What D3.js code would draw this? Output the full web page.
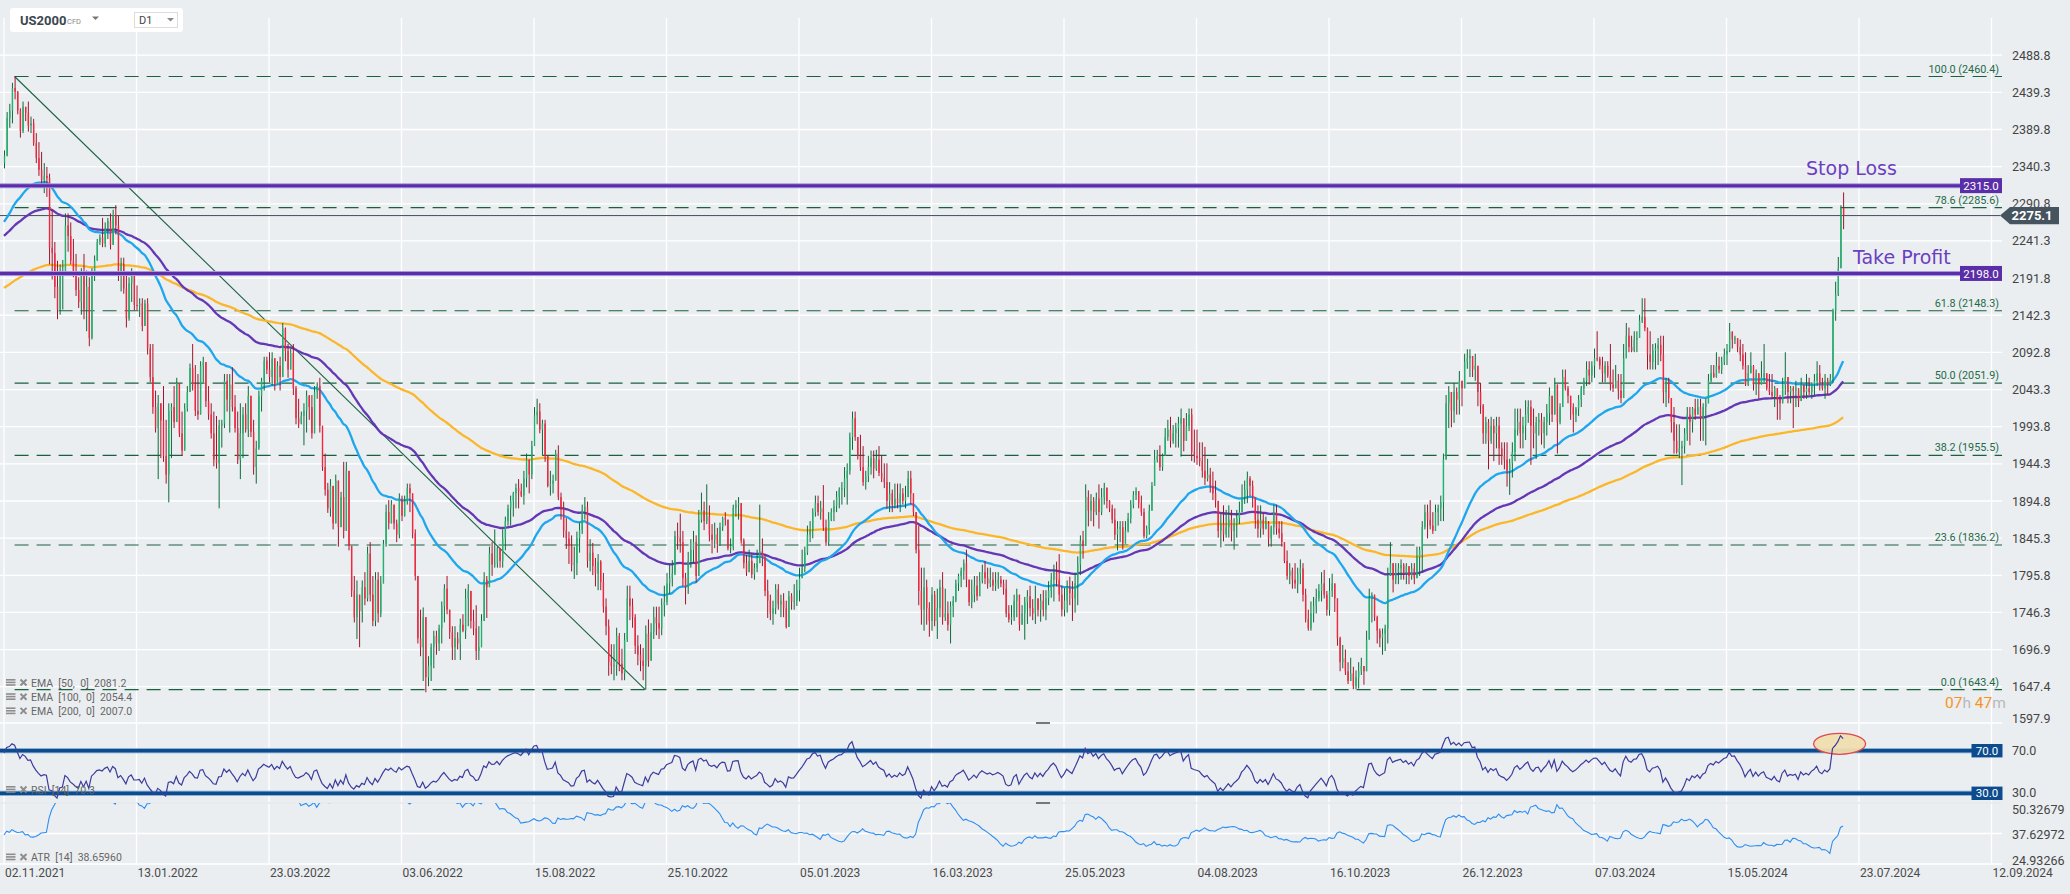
<!DOCTYPE html>
<html><head><meta charset="utf-8">
<script src="https://cdn.jsdelivr.net/npm/d3@7"></script>
<style>
body{margin:0;background:#ebeef1;overflow:hidden}
svg{display:block;font-family:Roboto,"Noto Sans",sans-serif}
</style></head>
<body><svg id="c" width="2070" height="894"></svg>
<script>
// ---------------- DATA ----------------
const dateLabels = ["02.11.2021","13.01.2022","23.03.2022","03.06.2022","15.08.2022","25.10.2022","05.01.2023","16.03.2023","25.05.2023","04.08.2023","16.10.2023","26.12.2023","07.03.2024","15.05.2024","23.07.2024","12.09.2024"];
const barsPerDateLabel = 50;
const priceTicks = [2488.8,2439.3,2389.8,2340.3,2290.8,2241.3,2191.8,2142.3,2092.8,2043.3,1993.8,1944.3,1894.8,1845.3,1795.8,1746.3,1696.9,1647.4,1597.9];
const fibLevels = ["100.0","78.6","61.8","50.0","38.2","23.6","0.0"];
const fibPrices = [2460.4,2285.6,2148.3,2051.9,1955.5,1836.2,1643.4];
const fibFromIndex = 4, fibToIndex = 242;
const stopLoss = 2315.0, takeProfit = 2198.0, lastPrice = 2275.1;
const rsiLevels = [70.0, 30.0];
const atrTicks = [50.32679, 37.62972, 24.93266];
const emaPeriods = [50, 100, 200];
const emaSeeds = [2263, 2246, 2177];
const emaLegendValues = ["2081.2", "2054.4", "2007.0"];
const rsiLegend = "RSI  [14]  70.3";
const atrLegend = "ATR  [14]  38.65960";
const firstOpen = 2345;
const rsiSeed = [14, 7];
const atrSeed = 38;

const closes = [
2355,2405,2415,2445,2440,2415,2388,2420,2412,2395,
2398,2372,2352,2336,2322,2328,2325,2232,2225,2180,
2150,2195,2200,2262,2248,2215,2198,2176,2160,2195,
2150,2180,2112,2195,2215,2240,2246,2238,2258,2268,
2236,2276,2262,2195,2210,2178,2138,2185,2198,2156,
2155,2158,2128,2158,2098,2060,2020,1992,2025,2002,
1955,1930,2015,2020,2000,2052,1985,1962,2018,2040,
2072,2050,2015,2010,2075,2080,2028,2010,1985,1950,
1945,1995,1998,2055,2030,2050,2020,1992,1950,1985,
2010,1990,2035,1987,1940,1965,2035,2055,2082,2070,
2060,2085,2050,2075,2060,2125,2095,2070,2092,2045,
2005,1998,2008,2015,2035,2020,1985,2040,2048,1995,
1940,1910,1885,1915,1865,1922,1860,1900,1855,1935,
1835,1775,1740,1770,1748,1780,1765,1825,1770,1735,
1790,1745,1785,1838,1880,1865,1890,1865,1850,1898,
1875,1895,1912,1905,1852,1795,1712,1700,1740,1660,
1675,1700,1715,1705,1725,1755,1778,1750,1720,1700,
1712,1705,1730,1722,1765,1775,1735,1725,1695,1700,
1735,1790,1780,1825,1810,1812,1832,1815,1845,1868,
1885,1895,1905,1912,1908,1902,1925,1950,1930,1968,
2009,2014,1990,1998,1955,1915,1918,1922,1958,1900,
1885,1855,1845,1835,1810,1812,1845,1856,1882,1887,
1815,1826,1808,1798,1814,1787,1754,1728,1680,1675,
1676,1715,1678,1665,1710,1765,1755,1740,1702,1690,
1682,1675,1718,1682,1720,1740,1732,1725,1756,1760,
1785,1792,1798,1848,1846,1840,1792,1780,1815,1830,
1840,1795,1870,1882,1868,1875,1850,1843,1850,1838,
1860,1872,1870,1832,1834,1886,1890,1892,1842,1812,
1800,1815,1797,1806,1812,1828,1819,1775,1762,1745,
1752,1777,1757,1762,1752,1727,1768,1761,1762,1776,
1792,1806,1826,1850,1856,1880,1892,1880,1885,1860,
1840,1870,1880,1888,1900,1910,1912,1925,1935,1980,
2005,1980,1955,1940,1920,1928,1940,1952,1938,1950,
1932,1925,1920,1895,1905,1890,1898,1892,1905,1895,
1900,1925,1905,1880,1830,1775,1750,1780,1752,1735,
1770,1735,1752,1780,1740,1745,1730,1755,1762,1785,
1795,1802,1812,1790,1760,1770,1782,1768,1788,1800,
1792,1785,1790,1782,1785,1790,1785,1778,1745,1737,
1740,1762,1770,1730,1745,1760,1768,1752,1745,1765,
1750,1762,1750,1765,1775,1790,1800,1790,1770,1750,
1762,1780,1772,1765,1785,1810,1842,1835,1900,1882,
1895,1880,1898,1880,1900,1912,1895,1885,1870,1850,
1858,1860,1838,1855,1872,1890,1903,1908,1892,1880,
1848,1858,1882,1915,1950,1955,1940,1955,1980,1990,
1975,1985,1992,1998,2005,1975,1995,2010,1960,1955,
1952,1948,1935,1925,1930,1915,1905,1895,1855,1865,
1850,1860,1870,1855,1865,1872,1880,1900,1910,1925,
1915,1900,1870,1858,1870,1858,1866,1845,1860,1880,
1858,1852,1840,1815,1795,1802,1790,1785,1798,1805,
1770,1738,1725,1745,1755,1765,1775,1785,1770,1750,
1775,1785,1765,1712,1680,1685,1668,1655,1665,1648,
1660,1668,1675,1668,1710,1765,1770,1740,1722,1712,
1718,1725,1795,1812,1790,1800,1805,1810,1798,1808,
1795,1805,1792,1820,1830,1860,1880,1870,1862,1855,
1880,1885,1893,1950,2025,2040,2015,2040,2030,2055,
2045,2080,2085,2088,2070,2075,2040,2022,1985,2000,
1975,1995,1985,1995,1965,1955,1950,1935,1945,1960,
1990,2000,1985,1995,2010,2020,1995,1985,2000,2003,
1985,2000,2012,2035,2010,2050,2000,2020,2060,2045,
2035,2020,2010,2018,2030,2045,2055,2070,2062,2075,
2085,2084,2075,2065,2075,2062,2050,2045,2055,2042,
2032,2085,2115,2100,2095,2110,2112,2135,2140,2125,
2090,2080,2095,2098,2103,2090,2040,2055,2032,2000,
1975,1960,1965,1968,1985,2010,2000,2018,2010,2020,
2005,2020,2025,2055,2065,2060,2075,2070,2080,2090,
2095,2120,2110,2112,2100,2090,2075,2050,2065,2075,
2050,2065,2050,2060,2065,2045,2040,2035,2045,2030,
2025,2050,2060,2040,2045,2042,2045,2028,2050,2040,
2045,2040,2050,2055,2065,2050,2045,2055,2050,2058,
2148,2170,2205,2285,2275.1];

const highs = [
2362,2413,2424,2452,2460.4,2441,2418,2427,2420,2427,
2407,2404,2385,2373,2360,2345,2340,2331,2283,2240,
2215,2210,2216,2278,2278,2266,2244,2224,2193,2205,
2224,2202,2193,2205,2222,2244,2250,2272,2266,2272,
2278,2283,2289,2275,2219,2219,2199,2193,2205,2200,
2182,2165,2165,2163,2165,2104,2104,2042,2036,2008,
2048,2003,2025,2025,2048,2059,2025,2014,2025,2048,
2078,2104,2076,2064,2081,2087,2078,2048,2025,2014,
2008,2003,2003,2064,2064,2064,2073,2036,2014,2025,
2020,2025,2048,2000,2003,1975,2042,2059,2087,2087,
2093,2093,2076,2081,2087,2132,2126,2104,2098,2104,
2048,2031,2014,2025,2042,2036,2036,2048,2053,2059,
1986,1958,1919,1924,1907,1930,1900,1907,1947,1947,
1874,1829,1795,1789,1756,1789,1800,1834,1840,1795,
1800,1800,1795,1843,1890,1896,1896,1890,1870,1905,
1902,1902,1918,1918,1902,1857,1789,1750,1753,1715,
1688,1705,1722,1722,1730,1761,1784,1795,1744,1728,
1728,1720,1738,1744,1778,1784,1767,1750,1756,1728,
1744,1800,1795,1834,1840,1857,1834,1828,1857,1874,
1890,1902,1907,1918,1924,1918,1935,1958,1947,1975,
2020,2031,2025,2003,2003,1952,1935,1930,1963,1969,
1906,1894,1872,1854,1849,1834,1854,1866,1890,1900,
1894,1844,1839,1819,1824,1816,1799,1765,1737,1704,
1704,1726,1719,1698,1719,1782,1782,1765,1744,1716,
1704,1699,1729,1737,1732,1754,1754,1754,1765,1782,
1799,1810,1816,1855,1866,1878,1855,1799,1827,1844,
1855,1849,1883,1906,1894,1917,1889,1864,1866,1859,
1866,1874,1880,1868,1845,1890,1896,1900,1880,1845,
1823,1830,1825,1812,1830,1890,1845,1823,1790,1770,
1762,1784,1784,1770,1772,1762,1775,1772,1784,1790,
1806,1830,1834,1862,1868,1885,1902,1902,1895,1916,
1870,1880,1885,1896,1908,1913,1920,1940,1945,1986,
2014,2014,1980,1983,1968,1935,1955,1962,1962,1963,
1968,1955,1945,1945,1920,1910,1918,1918,1918,1912,
1915,1935,1935,1905,1880,1862,1806,1806,1790,1760,
1780,1775,1778,1790,1800,1778,1761,1761,1768,1790,
1798,1806,1817,1830,1790,1790,1795,1795,1800,1810,
1815,1806,1806,1800,1800,1800,1795,1790,1790,1756,
1756,1770,1778,1770,1756,1767,1776,1782,1764,1782,
1764,1771,1776,1776,1788,1799,1810,1814,1824,1782,
1779,1789,1794,1788,1799,1821,1849,1855,1917,1909,
1904,1900,1906,1917,1912,1919,1913,1896,1890,1885,
1868,1868,1868,1868,1879,1896,1908,1913,1908,1902,
1885,1862,1890,1920,1963,1963,1969,1958,1992,2003,
2007,1996,1999,2007,2018,2004,2012,2018,2018,1990,
1990,1973,1973,1967,1951,1939,1934,1922,1894,1878,
1889,1883,1889,1883,1872,1883,1894,1917,1922,1934,
1928,1922,1900,1889,1889,1879,1874,1868,1862,1890,
1890,1868,1868,1840,1829,1812,1806,1812,1806,1817,
1812,1778,1750,1761,1767,1778,1784,1800,1803,1775,
1792,1798,1781,1759,1714,1703,1697,1680,1686,1674,
1669,1680,1686,1671,1722,1778,1773,1753,1742,1725,
1725,1730,1806,1840,1812,1812,1812,1817,1812,1812,
1806,1812,1812,1834,1834,1868,1890,1890,1896,1880,
1890,1890,1902,1958,2036,2048,2024,2052,2046,2068,
2054,2091,2097,2097,2085,2091,2063,2052,2024,2007,
2004,2007,2004,2007,2007,1973,1973,1973,1951,1973,
2018,2018,2018,2007,2029,2029,2029,2018,2007,2012,
2012,2007,2024,2046,2025,2059,2031,2025,2070,2070,
2048,2031,2025,2020,2036,2048,2059,2081,2081,2081,
2098,2121,2087,2087,2081,2081,2104,2070,2076,2064,
2064,2104,2132,2126,2115,2121,2121,2143,2165,2165,
2126,2121,2104,2105,2112,2115,2115,2059,2059,2020,
2020,1997,1997,1975,1992,2020,2020,2020,2031,2031,
2031,2025,2031,2064,2076,2076,2093,2087,2087,2098,
2104,2132,2121,2115,2110,2110,2104,2093,2076,2093,
2076,2070,2064,2081,2104,2064,2064,2064,2048,2036,
2036,2059,2093,2048,2048,2048,2055,2040,2059,2048,
2064,2059,2053,2064,2081,2076,2059,2064,2059,2064,
2151,2187,2220,2289,2306];

const lows = [
2338,2354,2392,2398,2430,2410,2379,2385,2401,2387,
2385,2368,2345,2328,2312,2305,2300,2210,2190,2165,
2137,2143,2150,2216,2227,2210,2193,2168,2152,2143,
2137,2121,2101,2110,2188,2215,2236,2233,2233,2244,
2230,2240,2250,2188,2174,2171,2126,2135,2160,2149,
2149,2140,2121,2149,2090,2053,2011,1986,1924,1952,
1947,1918,1893,1952,1992,2008,1980,1955,1997,2014,
2042,2042,2008,2003,2020,2053,2020,2003,1978,1941,
1938,1885,1966,1992,2014,1986,2014,1986,1944,1924,
1952,1986,1980,1980,1930,1918,1963,2014,2042,2064,
2053,2048,2042,2053,2042,2087,2081,2059,2070,2036,
1997,1992,1997,1969,1986,2003,1978,1992,2031,1986,
1935,1902,1879,1874,1857,1874,1834,1868,1845,1857,
1829,1767,1733,1711,1700,1733,1756,1761,1761,1728,
1728,1733,1740,1790,1834,1857,1874,1857,1840,1845,
1868,1874,1890,1880,1845,1789,1705,1688,1655,1640,
1648,1655,1672,1690,1695,1705,1733,1744,1711,1683,
1683,1697,1683,1720,1711,1728,1725,1716,1683,1683,
1700,1739,1739,1800,1795,1806,1806,1806,1806,1829,
1862,1862,1874,1885,1885,1900,1890,1913,1905,1924,
1978,1997,1985,1955,1947,1913,1902,1905,1935,1896,
1870,1846,1831,1811,1801,1791,1796,1826,1851,1870,
1806,1801,1796,1781,1776,1776,1746,1716,1662,1664,
1656,1662,1668,1656,1656,1707,1736,1726,1691,1676,
1668,1656,1643.4,1674,1686,1711,1716,1711,1716,1741,
1756,1771,1781,1796,1830,1826,1781,1757,1771,1806,
1811,1786,1813,1866,1856,1864,1841,1825,1832,1826,
1835,1855,1862,1829,1825,1829,1874,1870,1838,1805,
1795,1800,1792,1790,1800,1820,1808,1768,1739,1736,
1730,1744,1750,1740,1740,1725,1728,1750,1750,1755,
1761,1798,1800,1823,1840,1845,1874,1875,1870,1855,
1835,1835,1868,1868,1880,1885,1890,1900,1890,1930,
1963,1975,1950,1935,1915,1910,1920,1930,1925,1935,
1928,1920,1912,1885,1880,1880,1885,1885,1880,1890,
1885,1900,1890,1875,1825,1756,1730,1722,1730,1714,
1722,1728,1711,1740,1730,1735,1722,1705,1740,1760,
1775,1780,1790,1780,1755,1752,1760,1762,1770,1785,
1784,1778,1780,1775,1775,1778,1780,1770,1740,1733,
1730,1735,1740,1722,1735,1710,1731,1741,1736,1731,
1741,1734,1741,1736,1756,1766,1761,1781,1761,1741,
1741,1746,1756,1735,1746,1756,1796,1818,1841,1861,
1868,1861,1876,1858,1876,1890,1885,1880,1865,1843,
1829,1840,1830,1845,1853,1865,1885,1896,1885,1875,
1845,1845,1850,1890,1930,1946,1935,1935,1963,1975,
1966,1971,1966,1966,1954,1961,1981,1988,1948,1946,
1943,1941,1926,1916,1921,1906,1896,1886,1846,1833,
1841,1846,1846,1841,1830,1846,1864,1881,1891,1892,
1901,1886,1858,1846,1846,1850,1857,1834,1834,1850,
1850,1845,1834,1812,1790,1784,1778,1778,1772,1784,
1761,1733,1722,1722,1733,1745,1761,1761,1765,1742,
1742,1767,1747,1702,1668,1672,1663,1651,1657,1644,
1644,1645,1663,1650,1677,1722,1733,1735,1705,1700,
1690,1695,1705,1806,1773,1784,1784,1790,1790,1784,
1784,1790,1784,1795,1795,1800,1857,1845,1857,1851,
1868,1862,1868,1868,1975,1992,1993,1999,2010,2010,
2021,2055,2071,2060,2060,2055,2021,2011,1971,1971,
1937,1971,1948,1965,1943,1943,1937,1914,1903,1926,
1948,1982,1965,1965,1976,1999,1943,1965,1951,1982,
1970,1965,1982,1996,2000,2014,1958,1997,2025,2042,
2025,2003,1986,2000,2008,2020,2036,2048,2050,2053,
2059,2081,2070,2053,2053,2059,2042,2040,2048,2030,
2025,2070,2104,2093,2093,2093,2093,2115,2132,2121,
2070,2070,2070,2070,2076,2081,2025,2020,2025,1986,
1958,1958,1952,1916,1958,1975,1969,1986,2003,2014,
1975,1975,1969,2031,2053,2059,2059,2065,2064,2076,
2076,2093,2098,2104,2093,2081,2070,2048,2048,2068,
2042,2036,2031,2053,2053,2042,2036,2031,2020,2003,
2003,2025,2036,2025,2025,1992,2020,2020,2031,2031,
2031,2036,2031,2036,2048,2042,2042,2031,2036,2048,
2052,2135,2168,2205,2257];

// ---------------- CHART ----------------
const svg = d3.select("#c");
const PR = 2002;
const MT = 18, MB = 723;
const RT = 723, RB = 803;
const AT = 803, AB = 864;
const GRID = "#ffffff";
const FIB = "#1b6140";

const x = d3.scaleLinear().domain([0, 750]).range([4, 1991.5]);
const y = d3.scaleLinear().domain([1647.4, 2488.8]).range([686.7, 55.2]);
const yR = d3.scaleLinear().domain([30, 70]).range([793.3, 750.7]);
const yA = d3.scaleLinear().domain([atrTicks[2], atrTicks[0]]).range([AB, AT]);

const defs = svg.append("defs");
function clip(id, x0, y0, x1, y1) {
  defs.append("clipPath").attr("id", id).append("rect")
    .attr("x", x0).attr("y", y0).attr("width", x1 - x0).attr("height", y1 - y0);
}
clip("cm", 0, MT, PR, MB); clip("cr", 0, RT, PR, RB); clip("ca", 0, AT, PR, AB);

svg.append("rect").attr("width", 2070).attr("height", 894).attr("fill", "#ebeef1");

// grid
const g = svg.append("g");
g.selectAll(".vg").data(dateLabels).join("line")
  .attr("x1", (d, k) => x(k * barsPerDateLabel)).attr("x2", (d, k) => x(k * barsPerDateLabel))
  .attr("y1", MT).attr("y2", AB).attr("stroke", GRID).attr("stroke-width", 1.3);
g.selectAll(".hg").data(priceTicks.filter(p => y(p) < MB - 2)).join("line")
  .attr("x1", 0).attr("x2", PR).attr("y1", d => y(d)).attr("y2", d => y(d))
  .attr("stroke", GRID).attr("stroke-width", 1.3);
[MB, RB, yA(atrTicks[1]), AB].forEach(v => g.append("line").attr("x1", 0).attr("x2", PR)
  .attr("y1", v).attr("y2", v).attr("stroke", GRID).attr("stroke-width", 1.3));
svg.append("line").attr("x1", 0).attr("x2", PR).attr("y1", RB).attr("y2", RB).attr("stroke", "#d6dadf").attr("stroke-width", 1);

// axis labels
svg.append("g").attr("font-size", 12.5).attr("fill", "#444").selectAll("text").data(priceTicks).join("text")
  .attr("x", 2012).attr("y", d => Math.min(y(d) + 4.5, 722.5)).text(d => d.toFixed(1));
svg.append("g").attr("font-size", 12).attr("fill", "#4a4a4a").selectAll("text").data(dateLabels).join("text")
  .attr("x", (d, k) => x(k * barsPerDateLabel) + 1).attr("y", 877).text(d => d);
const atrLabY = [814, 839, 865];
svg.append("g").attr("font-size", 12.5).attr("fill", "#444").selectAll("text").data(atrTicks).join("text")
  .attr("x", 2012).attr("y", (d, k) => atrLabY[k]).text(d => d.toFixed(5));
svg.append("g").attr("font-size", 12.5).attr("fill", "#444").selectAll("text").data(rsiLevels).join("text")
  .attr("x", 2012).attr("y", d => yR(d) + 4).text(d => d.toFixed(1));

// main panel content
const main = svg.append("g").attr("clip-path", "url(#cm)");
const fx0 = x(fibFromIndex);
main.selectAll(".fib").data(fibPrices).join("line")
  .attr("x1", fx0).attr("x2", PR).attr("y1", d => y(d)).attr("y2", d => y(d))
  .attr("stroke", FIB).attr("stroke-width", 1.2).attr("stroke-dasharray", "14,8");
svg.append("g").attr("font-size", 10.8).attr("fill", "#1d6b47").attr("text-anchor", "end")
  .selectAll("text").data(fibPrices).join("text")
  .attr("x", 1999).attr("y", d => y(d) - 4).text((d, k) => `${fibLevels[k]} (${d.toFixed(1)})`);
main.append("line").attr("x1", x(fibFromIndex)).attr("y1", y(fibPrices[0]))
  .attr("x2", x(fibToIndex)).attr("y2", y(fibPrices[6])).attr("stroke", FIB).attr("stroke-width", 1.1);

main.append("line").attr("x1", 0).attr("x2", 2000).attr("y1", y(lastPrice)).attr("y2", y(lastPrice))
  .attr("stroke", "#3f4d57").attr("stroke-width", 1);

// EMAs
function ema(vals, period, seed) { const a = 2 / (period + 1); let e = seed; return vals.map(v => (e = e + a * (v - e))); }
const emaColors = ["#1ea6ee", "#6437b4", "#fbb62a"];
const lineGen = d3.line().x((d, i) => x(i)).y(d => y(d)).curve(d3.curveMonotoneX);
[2, 1, 0].forEach(k => {
  const vals = ema(closes, emaPeriods[k], emaSeeds[k]);
  main.append("path").attr("d", lineGen(vals)).attr("fill", "none")
    .attr("stroke", emaColors[k]).attr("stroke-width", 2.3);
});

// candles
const opens = closes.map((c, i) => i === 0 ? firstOpen : closes[i - 1]);
const bars = closes.map((c, i) => {
  const o = opens[i];
  return { i, o, c, h: Math.max(highs[i], o, c), l: Math.min(lows[i], o, c), up: c >= o };
});
const cg = main.append("g");
cg.selectAll(".wick").data(bars).join("line")
  .attr("x1", d => x(d.i) + 0.5).attr("x2", d => x(d.i) + 0.5)
  .attr("y1", d => y(d.h)).attr("y2", d => y(d.l))
  .attr("stroke", d => d.up ? "#0c6a3a" : "#a3142c").attr("stroke-width", 1);
cg.selectAll(".body").data(bars).join("rect")
  .attr("x", d => x(d.i) - 0.2).attr("width", 1.4)
  .attr("y", d => y(Math.max(d.o, d.c)))
  .attr("height", d => Math.max(1, Math.abs(y(d.o) - y(d.c))))
  .attr("fill", d => d.up ? "#22b26f" : "#f2273d");

// Stop loss / take profit
function level(price, txt, tx, ty) {
  const yy = y(price);
  svg.append("line").attr("x1", 0).attr("x2", 1962).attr("y1", yy).attr("y2", yy)
    .attr("stroke", "#a996dc").attr("stroke-width", 5);
  svg.append("line").attr("x1", 0).attr("x2", 1962).attr("y1", yy).attr("y2", yy)
    .attr("stroke", "#5a2ea8").attr("stroke-width", 3);
  svg.append("rect").attr("x", 1960).attr("y", yy - 7.5).attr("width", 42).attr("height", 15).attr("fill", "#5a2ea8");
  svg.append("text").attr("x", 1981).attr("y", yy + 4.3).attr("text-anchor", "middle")
    .attr("fill", "#fff").attr("font-size", 11.5).text(price.toFixed(1));
  svg.append("text").attr("x", tx).attr("y", yy - ty).attr("fill", "#6b3fc1")
    .attr("font-family", "'DejaVu Sans',sans-serif").attr("font-size", 19).text(txt);
}
level(stopLoss, "Stop Loss", 1806, 10.2);
level(takeProfit, "Take Profit", 1853, 9.3);

// last price tag
{
  const yy = y(lastPrice);
  svg.append("path").attr("d", `M2000,${yy} L2010,${yy - 8.7} L2059,${yy - 8.7} L2059,${yy + 8.7} L2010,${yy + 8.7} Z`)
    .attr("fill", "#45545e");
  svg.append("text").attr("x", 2011.5).attr("y", yy + 4.7).attr("fill", "#fff")
    .attr("font-weight", "bold").attr("font-size", 13).text(lastPrice.toFixed(1));
}

// countdown
{
  const t = svg.append("text").attr("x", 1945).attr("y", 708).attr("font-size", 15.5)
    .attr("font-family", "'Liberation Sans Narrow',Roboto,sans-serif");
  t.append("tspan").attr("fill", "#f7941d").text("07");
  t.append("tspan").attr("fill", "#b9b9b9").text("h ");
  t.append("tspan").attr("fill", "#f7941d").text("47");
  t.append("tspan").attr("fill", "#b9b9b9").text("m");
}

function legendRow(yb, txt) {
  const lg = svg.append("g").attr("fill", "#8d8d8d");
  [0, 2.6, 5.2].forEach(o => lg.append("rect").attr("x", 6).attr("y", yb - 7.5 + o).attr("width", 9.5).attr("height", 1.6));
  lg.append("path").attr("d", `M20.5,${yb - 7} l6,6 M26.5,${yb - 7} l-6,6`).attr("stroke", "#8d8d8d").attr("stroke-width", 2);
  svg.append("text").attr("x", 31).attr("y", yb).attr("font-size", 10.5).attr("fill", "#666")
    .style("white-space", "pre").text(txt);
}
emaPeriods.forEach((p, k) => legendRow(686.5 + k * 14.2, `EMA  [${p},  0]  ${emaLegendValues[k]}`));

// RSI panel
function rsiCalc(cl) {
  let ag = rsiSeed[0], al = rsiSeed[1];
  return cl.map((c, i) => {
    const ch = c - (i === 0 ? firstOpen : cl[i - 1]);
    ag = (ag * 13 + Math.max(ch, 0)) / 14; al = (al * 13 + Math.max(-ch, 0)) / 14;
    return 100 - 100 / (1 + ag / al);
  });
}
const rsi = rsiCalc(closes);
const rg = svg.append("g").attr("clip-path", "url(#cr)");
legendRow(793.5, rsiLegend);
rsiLevels.forEach(v => {
  rg.append("line").attr("x1", 0).attr("x2", 1972).attr("y1", yR(v)).attr("y2", yR(v)).attr("stroke", "#6f9cc9").attr("stroke-width", 5);
  rg.append("line").attr("x1", 0).attr("x2", 1972).attr("y1", yR(v)).attr("y2", yR(v)).attr("stroke", "#0c4c8e").attr("stroke-width", 3.2);
  svg.append("rect").attr("x", 1971.5).attr("y", yR(v) - 6.7).attr("width", 31).attr("height", 13.4).attr("fill", "#0c4c8e");
  svg.append("text").attr("x", 1987).attr("y", yR(v) + 4).attr("text-anchor", "middle").attr("fill", "#fff")
    .attr("font-size", 11.5).text(v.toFixed(1));
});
const last = closes.length - 1;
rg.append("ellipse").attr("cx", x(last) - 3.5).attr("cy", yR(76.5)).attr("rx", 26).attr("ry", 10.5)
  .attr("fill", "#f1ddb0").attr("fill-opacity", 0.95).attr("stroke", "#e0484c").attr("stroke-width", 1.3);
rg.append("path").attr("d", d3.line().x((d, i) => x(i)).y(d => yR(d))(rsi))
  .attr("fill", "none").attr("stroke", "#3b3c9c").attr("stroke-width", 1.2);

// ATR panel
const atr = (() => {
  let a = atrSeed;
  return bars.map((b, i) => {
    const pc = i === 0 ? firstOpen : closes[i - 1];
    const tr = Math.max(b.h - b.l, Math.abs(b.h - pc), Math.abs(b.l - pc));
    a = (a * 13 + tr) / 14; return a;
  });
})();
const ag2 = svg.append("g").attr("clip-path", "url(#ca)");
ag2.append("path").attr("d", d3.line().x((d, i) => x(i)).y(d => yA(d))(atr))
  .attr("fill", "none").attr("stroke", "#2d8ff2").attr("stroke-width", 1.1);
legendRow(861, atrLegend);

[RT, RB].forEach(v => svg.append("rect").attr("x", 1036).attr("y", v - 1).attr("width", 14).attr("height", 2).attr("fill", "#777"));

// header
{
  const h = svg.append("g");
  h.append("rect").attr("x", 10).attr("y", 8).attr("width", 173).attr("height", 24).attr("rx", 3).attr("fill", "#fff");
  h.append("text").attr("x", 20).attr("y", 25).attr("font-size", 13).attr("font-weight", "bold").attr("fill", "#3a4650").text("US2000");
  h.append("text").attr("x", 67).attr("y", 23.5).attr("font-size", 7.5).attr("fill", "#8a8a8a").text("CFD");
  h.append("path").attr("d", "M92,16.5 L99,16.5 L95.5,20 Z").attr("fill", "#777");
  h.append("rect").attr("x", 134.5).attr("y", 12.5).attr("width", 43).attr("height", 15).attr("fill", "#fff").attr("stroke", "#dcdcdc");
  h.append("text").attr("x", 139).attr("y", 24).attr("font-size", 11).attr("fill", "#444").text("D1");
  h.append("path").attr("d", "M167,18 L174,18 L170.5,21.5 Z").attr("fill", "#888");
}

if (closes.length !== highs.length || closes.length !== lows.length) {
  svg.append("text").attr("x", 600).attr("y", 400).attr("fill", "red").attr("font-size", 30)
    .text(`len mismatch ${closes.length} ${highs.length} ${lows.length}`);
}
</script></body></html>
